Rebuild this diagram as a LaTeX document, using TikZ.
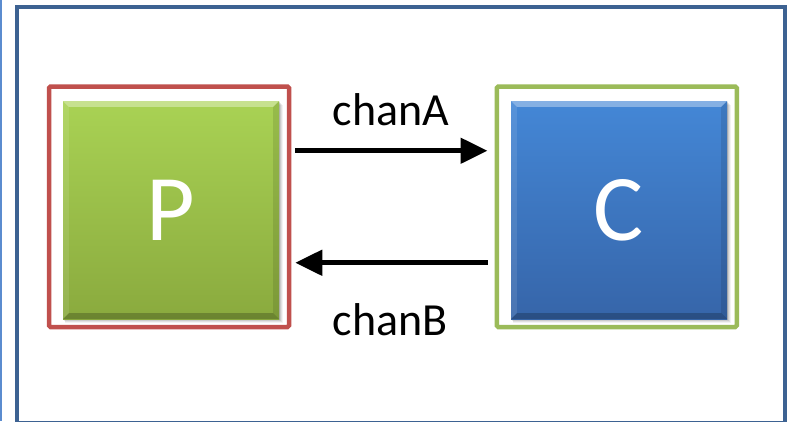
\documentclass[tikz,border=0pt]{standalone}
\usepackage{fontspec}
\setmainfont{Carlito}
\usetikzlibrary{arrows.meta,calc}
\definecolor{frameblue}{HTML}{3D6292}
\definecolor{edgeblue}{HTML}{5B8CCF}
\definecolor{pred}{HTML}{C0504D}
\definecolor{cgreen}{HTML}{9BBB59}
\definecolor{ptop}{HTML}{A9D254}
\definecolor{pbot}{HTML}{8AAA3E}
\definecolor{ctop}{HTML}{4487D6}
\definecolor{cbot}{HTML}{3665A9}
\newcommand\mybevel[1]{%
  \fill[white,opacity=.35] (#1.north west) -- (#1.north east) -- ([shift={(-6,6)}]#1.north east) -- ([shift={(6,6)}]#1.north west) -- cycle;
  \fill[white,opacity=.10] (#1.north west) -- ([shift={(6,6)}]#1.north west) -- ([shift={(6,-6)}]#1.south west) -- (#1.south west) -- cycle;
  \fill[black,opacity=.22] (#1.south west) -- (#1.south east) -- ([shift={(-6,-6)}]#1.south east) -- ([shift={(6,-6)}]#1.south west) -- cycle;
  \fill[black,opacity=.10] (#1.north east) -- (#1.south east) -- ([shift={(-6,-6)}]#1.south east) -- ([shift={(-6,6)}]#1.north east) -- cycle;
}
\newcommand\myshadow[4]{%
  \foreach \s/\o in {4/0.05,3/0.07,2/0.09,1/0.12}{
    \fill[black,opacity=\o] (#1+\s*0.5,#2+\s) rectangle (#3+\s,#4+\s);
  }
}
\begin{document}
\begin{tikzpicture}[x=1pt,y=-1pt,
  frame/.style={draw, line width=4.5pt, rounded corners=1.5pt, minimum width=240pt, minimum height=240.5pt, inner sep=0pt},
  block/.style={minimum width=216pt, minimum height=218pt, inner sep=0pt, text=white, font=\fontsize{94}{100}\selectfont},
  arr/.style={line width=5pt, -{Triangle[length=27pt,width=25pt]}},
  lbl/.style={font=\fontsize{46}{50}\selectfont, anchor=base, inner sep=0pt}
]
\useasboundingbox (0,0) rectangle (792,421);
\fill[white] (0,0) rectangle (792,421);
\draw[edgeblue, line width=1.5pt] (0.75,0) -- (0.75,421);
\draw[frameblue, line width=4pt] (17,7) rectangle (784.5,423);

\myshadow{63}{101}{279}{319}
\myshadow{511}{101}{727}{319}

\node[block, top color=ptop, bottom color=pbot] (P) at (171,210) {};
\mybevel{P}
\node[block] (Ptext) at (171,210) {P};
\node[block, top color=ctop, bottom color=cbot] (C) at (619,210) {};
\mybevel{C}
\node[block] (Ctext) at (619,210) {C};

\node[frame, draw=pred] (pframe) at (169,206.75) {};
\node[frame, draw=cgreen] (cframe) at (616.75,206.75) {};

\node[lbl] (la) at (391,125) {chanA};
\node[lbl] (lb) at (390,335) {chanB};

\draw[arr] ([shift={(4,-56)}]pframe.east) -- ([shift={(-7,-56)}]cframe.west);
\draw[arr] ([shift={(-7,56)}]cframe.west) -- ([shift={(4,56)}]pframe.east);
\end{tikzpicture}
\end{document}
